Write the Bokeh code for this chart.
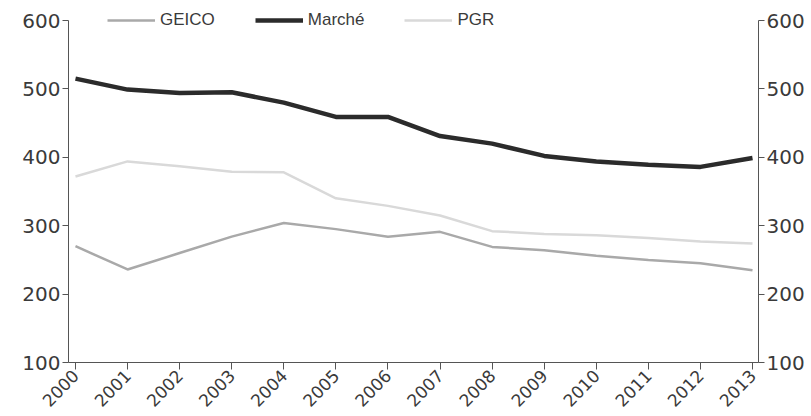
from bokeh.plotting import figure
from bokeh.models import LinearAxis, Legend, LegendItem, FixedTicker, Range1d
from bokeh.embed import file_html
from bokeh.resources import INLINE

years = [2000, 2001, 2002, 2003, 2004, 2005, 2006, 2007, 2008, 2009, 2010, 2011, 2012, 2013]
geico = [270, 236, 260, 284, 304, 295, 284, 291, 269, 264, 256, 250, 245, 235]
marche = [515, 499, 494, 495, 480, 459, 459, 431, 420, 402, 394, 389, 386, 399]
pgr = [372, 394, 387, 379, 378, 340, 329, 315, 292, 288, 286, 282, 277, 274]
y_ticks = [100, 200, 300, 400, 500, 600]

p = figure(width=811, height=416, output_backend="svg", toolbar_location=None,
           x_range=Range1d(1999.866, 2013.115), y_range=Range1d(100, 623.4),
           min_border_left=68, min_border_right=53, min_border_top=4, min_border_bottom=54,
           x_axis_location="below", y_axis_location="left")
p.outline_line_color = None
p.xgrid.visible = False
p.ygrid.visible = False
p.background_fill_color = "white"
p.border_fill_color = "white"

r_geico = p.line(years, geico, line_color="#a9a9a9", line_width=2.5)
r_marche = p.line(years, marche, line_color="#2b2b2b", line_width=4.5)
r_pgr = p.line(years, pgr, line_color="#d9d9d9", line_width=2.5)

right_axis = LinearAxis()
p.add_layout(right_axis, "right")

tick_font = "DejaVu Sans"
for ax in [p.yaxis[0], right_axis]:
    ax.ticker = FixedTicker(ticks=y_ticks)
    ax.bounds = (100, 600)
    ax.major_label_text_font = tick_font
    ax.major_label_text_font_size = "20px"
    ax.major_label_text_color = "#3a3a3a"
    ax.axis_line_color = "#555555"
    ax.major_tick_line_color = "#555555"
    ax.major_tick_out = 6
    ax.major_tick_in = 0
    ax.minor_tick_out = 0
    ax.minor_tick_in = 0
    ax.major_label_standoff = 2

xa = p.xaxis[0]
xa.ticker = FixedTicker(ticks=years)
xa.major_label_orientation = 0.8
xa.major_label_text_font = tick_font
xa.major_label_text_font_size = "17px"
xa.major_label_text_color = "#3a3a3a"
xa.axis_line_color = "#555555"
xa.major_tick_line_color = "#555555"
xa.major_tick_out = 7
xa.major_tick_in = 0
xa.minor_tick_out = 0
xa.minor_tick_in = 0
xa.major_label_standoff = 3

legend = Legend(items=[
    LegendItem(label="GEICO", renderers=[r_geico]),
    LegendItem(label="Marché", renderers=[r_marche]),
    LegendItem(label="PGR", renderers=[r_pgr]),
], orientation="horizontal", location=(39, 332))
legend.background_fill_alpha = 0
legend.border_line_color = None
legend.padding = 0
legend.margin = 0
legend.spacing = 40
legend.glyph_width = 48
legend.glyph_height = 20
legend.label_height = 20
legend.label_standoff = 5
legend.label_text_font = "Liberation Sans"
legend.label_text_font_size = "17px"
legend.label_text_color = "#3a3a3a"
p.add_layout(legend, "center")

open("out.html", "w").write(file_html(p, INLINE))
